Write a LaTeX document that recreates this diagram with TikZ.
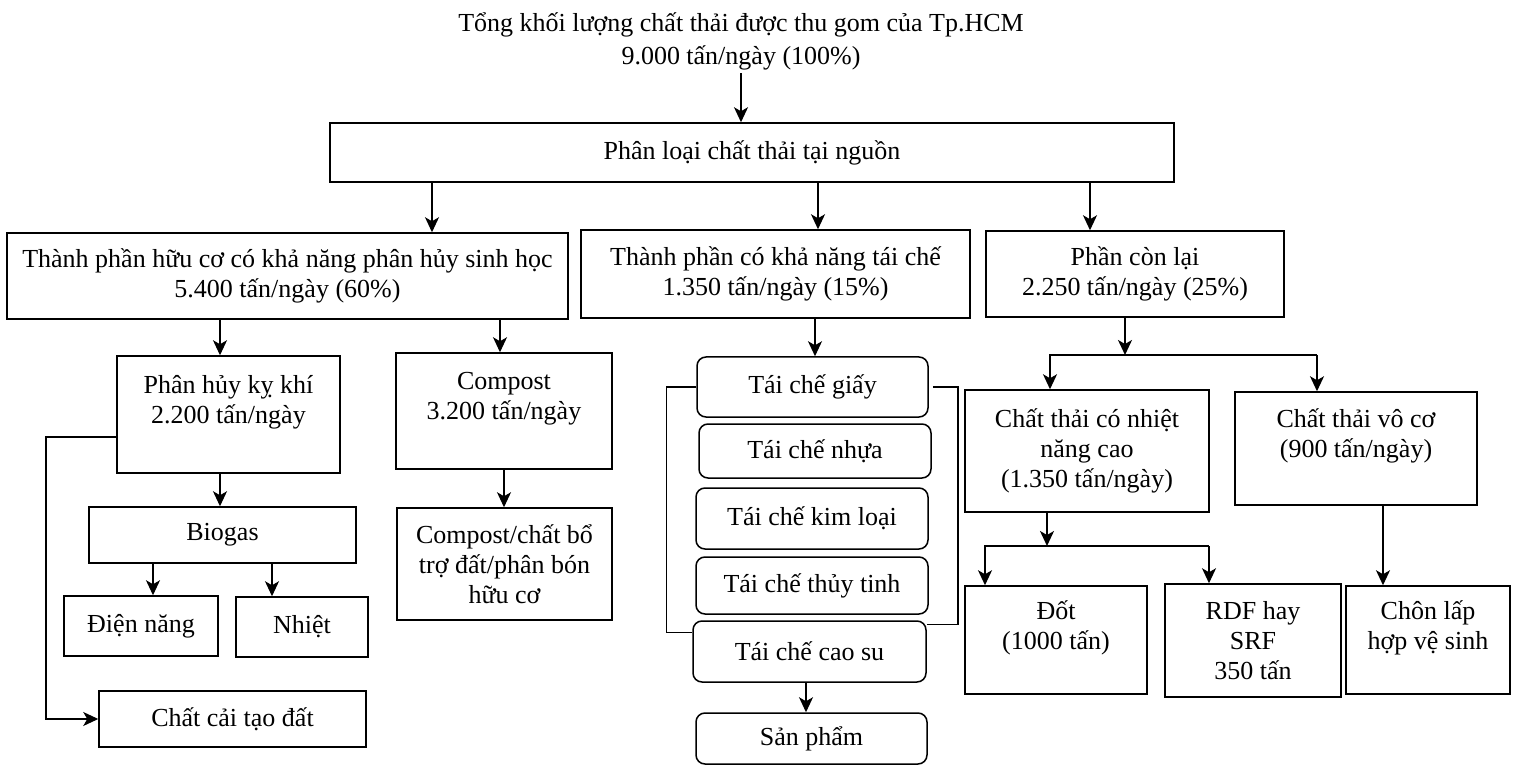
\documentclass[tikz,border=0pt]{standalone}
\usepackage{fontspec}
\setmainfont{Liberation Serif}
\usetikzlibrary{arrows.meta}

\tikzset{
  box/.style={draw, line width=1.5pt, align=center, inner sep=2pt},
  rbox/.style={box, rounded corners=9pt},
  arr/.style={line width=1.5pt, -{Stealth[length=15pt,width=14pt,inset=4pt]}},
  ln/.style={line width=1.5pt},
}

\begin{document}
\begin{tikzpicture}[x=1pt, y=-1pt, font=\fontsize{26}{30}\selectfont]
  \useasboundingbox (0,0) rectangle (1513,767);

  % tong va phan loai
  \node[align=center] (tong) at (741,41) {Tổng khối lượng chất thải được thu gom của Tp.HCM\\[3pt]9.000 tấn/ngày (100\%)};
  \node[box, minimum width=844, minimum height=59] (phanloai) at (752,152.5) {Phân loại chất thải tại nguồn};

  \node[box, minimum width=561, minimum height=86] (huuco) at (287.5,276) {Thành phần hữu cơ có khả năng phân hủy sinh học\\5.400 tấn/ngày (60\%)};
  \node[box, minimum width=389, minimum height=88] (taiche) at (775.5,274) {Thành phần có khả năng tái chế\\1.350 tấn/ngày (15\%)};
  \node[box, minimum width=298, minimum height=86] (conlai) at (1135,274) {Phần còn lại\\2.250 tấn/ngày (25\%)};

  % nhanh huu co
  \node[box, minimum width=223, minimum height=117] (kykhi) at (228.5,414.5) {Phân hủy kỵ khí\\2.200 tấn/ngày\\~};
  \node[box, minimum width=216, minimum height=116] (compost) at (504,411) {Compost\\3.200 tấn/ngày\\~};
  \node[box, minimum width=215, minimum height=112] (phanbon) at (504.5,564) {Compost/chất bổ\\trợ đất/phân bón\\hữu cơ};
  \node[box, minimum width=267, minimum height=56] (biogas) at (222.5,535) {Biogas};
  \node[box, minimum width=154, minimum height=60] (dien) at (141,626) {Điện năng};
  \node[box, minimum width=132, minimum height=60] (nhiet) at (302,627) {Nhiệt};
  \node[box, minimum width=267, minimum height=56] (caitao) at (232.5,719) {Chất cải tạo đất};

  % nhanh tai che
  \node[rbox, minimum width=231, minimum height=60] (giay) at (812.5,387) {Tái chế giấy};
  \node[rbox, minimum width=232, minimum height=54] (nhua) at (815,451) {Tái chế nhựa};
  \node[rbox, minimum width=232, minimum height=61] (kimloai) at (812,518.5) {Tái chế kim loại};
  \node[rbox, minimum width=232, minimum height=57] (thuytinh) at (812,585.5) {Tái chế thủy tinh};
  \node[rbox, minimum width=233, minimum height=61] (caosu) at (809.5,651.5) {Tái chế cao su};
  \node[rbox, minimum width=231, minimum height=51] (sanpham) at (811.5,738.5) {Sản phẩm};

  % nhanh con lai
  \node[box, minimum width=244, minimum height=122] (nhietcao) at (1087,451) {Chất thải có nhiệt\\năng cao\\(1.350 tấn/ngày)};
  \node[box, minimum width=242, minimum height=113] (voco) at (1356,448.5) {Chất thải vô cơ\\(900 tấn/ngày)\\~};
  \node[box, minimum width=182, minimum height=108] (dot) at (1056,640) {Đốt\\(1000 tấn)\\~};
  \node[box, minimum width=176, minimum height=113] (rdf) at (1253,640.5) {RDF hay\\SRF\\350 tấn};
  \node[box, minimum width=164, minimum height=108] (chonlap) at (1428,640) {Chôn lấp\\hợp vệ sinh\\~};

  \coordinate (rephai) at (1125,355);
  \coordinate (renhiet) at (1047,546);

  % mui ten
  \draw[arr] (tong.south) -- (tong.south |- phanloai.north);
  \draw[arr] (432,0 |- phanloai.south) -- (432,0 |- huuco.north);
  \draw[arr] (818,0 |- phanloai.south) -- (818,0 |- taiche.north);
  \draw[arr] (1090,0 |- phanloai.south) -- (1090,0 |- conlai.north);

  \draw[arr] (220,0 |- huuco.south) -- (220,0 |- kykhi.north);
  \draw[arr] (500,0 |- huuco.south) -- (500,0 |- compost.north);
  \draw[arr] (compost.south) -- (compost.south |- phanbon.north);
  \draw[arr] (220,0 |- kykhi.south) -- (220,0 |- biogas.north);
  \draw[arr] (153,0 |- biogas.south) -- (153,0 |- dien.north);
  \draw[arr] (272,0 |- biogas.south) -- (272,0 |- nhiet.north);
  \draw[arr] (kykhi.west |- 0,437) -- (46,437) |- (caitao.west);

  \draw[arr] (815,0 |- taiche.south) -- (815,0 |- giay.north);
  \draw[ln] (giay.west) -- ++(-30,0) |- ([yshift=-12pt]caosu.north west);
  \draw[ln] ([xshift=4pt]giay.east) -- ++(25,0) |- ([yshift=-4pt]caosu.north east);
  \draw[arr] (806,0 |- caosu.south) -- (806,0 |- sanpham.north);

  \draw[arr] (rephai |- conlai.south) -- (rephai);
  \draw[arr] (1317,0 |- rephai) -- (1050,0 |- rephai) -- (1050,0 |- nhietcao.north);
  \draw[arr] (1317,0 |- rephai) -- (1317,0 |- voco.north);
  \draw[arr] (renhiet |- nhietcao.south) -- (renhiet);
  \draw[arr] (1209,0 |- renhiet) -- (985,0 |- renhiet) -- (985,0 |- dot.north);
  \draw[arr] (1209,0 |- renhiet) -- (1209,0 |- rdf.north);
  \draw[arr] (1383,0 |- voco.south) -- (1383,0 |- chonlap.north);
\end{tikzpicture}
\end{document}
